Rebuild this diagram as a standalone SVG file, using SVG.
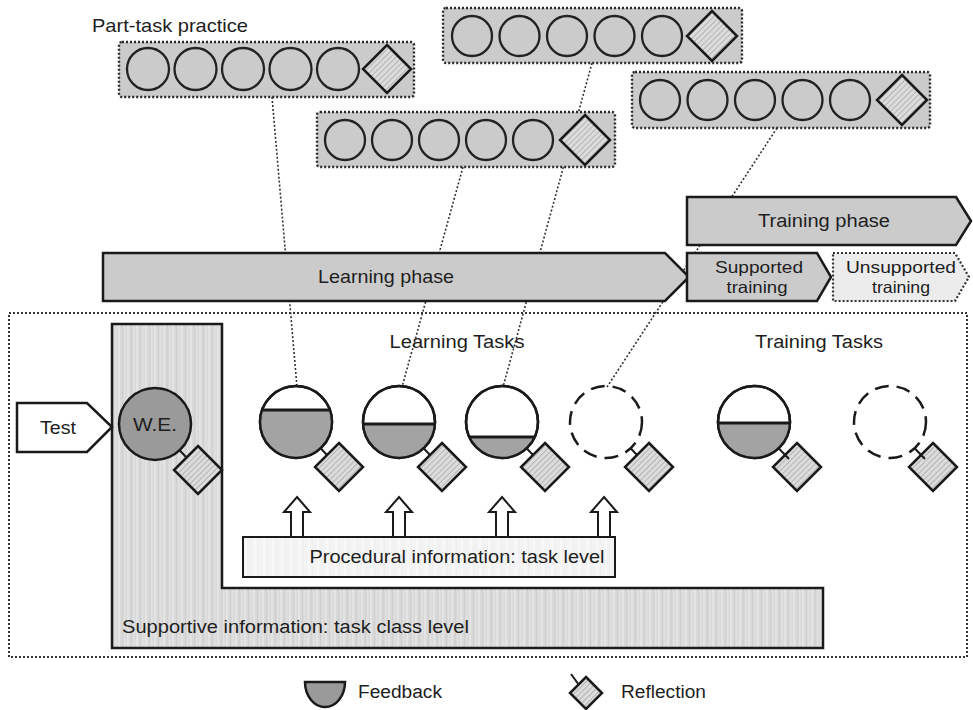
<svg xmlns="http://www.w3.org/2000/svg" width="973" height="710" viewBox="0 0 973 710">
<defs>
  <pattern id="hatch" patternUnits="userSpaceOnUse" width="4" height="4" patternTransform="rotate(45)">
    <rect width="4" height="4" fill="#dcdcdc"/>
    <line x1="0" y1="0" x2="0" y2="4" stroke="#9a9a9a" stroke-width="1.2"/>
  </pattern>
  <pattern id="vstripe" patternUnits="userSpaceOnUse" width="9" height="10">
    <rect width="9" height="10" fill="#d9d9d9"/>
    <rect x="1" width="2" height="10" fill="#e4e4e4"/>
    <rect x="5" width="1" height="10" fill="#cfcfcf"/>
    <rect x="7" width="1.5" height="10" fill="#e0e0e0"/>
  </pattern>
  <pattern id="vstripeLight" patternUnits="userSpaceOnUse" width="9" height="10">
    <rect width="9" height="10" fill="#f3f3f3"/>
    <rect x="2" width="2" height="10" fill="#f8f8f8"/>
    <rect x="6" width="1" height="10" fill="#efefef"/>
  </pattern>
</defs>
<style>
  text { font-family: "Liberation Sans", Arial, sans-serif; fill: #1e1e1e; }
  .t16 { font-size: 16.5px; }
  .t17 { font-size: 18px; }
  .t18 { font-size: 19px; }
  .ptp { fill: #cbcbcb; stroke: #2a2a2a; stroke-width: 2.4; stroke-dasharray: 2 2; }
  .pc { fill: #cbcbcb; stroke: #222; stroke-width: 2.3; }
  .dia { fill: url(#hatch); stroke: #1a1a1a; stroke-width: 2.5; stroke-linejoin: miter; }
  .dot { fill: none; stroke: #333; stroke-width: 1.6; stroke-dasharray: 2 2; }
  .phase { fill: #cbcbcb; stroke: #1a1a1a; stroke-width: 2.5; stroke-linejoin: miter; }
  .task { fill: #fff; stroke: #1a1a1a; stroke-width: 2.5; }
  .dash { fill: none; stroke: #1a1a1a; stroke-width: 2.5; stroke-dasharray: 14 8; }
  .fb { fill: #a3a3a3; stroke: none; }
  .chord { stroke: #1a1a1a; stroke-width: 3; }
  .link { stroke: #1a1a1a; stroke-width: 2; }
  .up { fill: #fff; stroke: #1a1a1a; stroke-width: 2; stroke-linejoin: miter; }
</style>
<rect width="973" height="710" fill="#fff"/>

<!-- outer dotted frame -->
<g id="frame">
  <rect x="9" y="313" width="958" height="344" fill="none" stroke="#333" stroke-width="2" stroke-dasharray="2 2"/>
</g>

<!-- connectors -->
<g id="connectors">
  <line class="dot" x1="272" y1="97" x2="297" y2="387"/>
  <line class="dot" x1="463" y1="167" x2="402" y2="387"/>
  <line class="dot" x1="592" y1="63" x2="503" y2="387"/>
  <line class="dot" x1="777" y1="128" x2="607" y2="387"/>
</g>

<!-- Part-task practice boxes -->
<g id="ptp-label"><text class="t18" x="92" y="32" textLength="156" lengthAdjust="spacingAndGlyphs">Part-task practice</text></g>

<g id="ptp1">
  <rect class="ptp" x="119" y="42" width="295" height="55" rx="3"/>
  <circle class="pc" cx="148" cy="69" r="21"/>
  <circle class="pc" cx="195.5" cy="69" r="21"/>
  <circle class="pc" cx="243" cy="69" r="21"/>
  <circle class="pc" cx="290.5" cy="69" r="21"/>
  <circle class="pc" cx="338" cy="69" r="21"/>
  <polygon class="dia" points="387,45 411,69 387,93 363,69"/>
</g>
<g id="ptp2">
  <rect class="ptp" x="443" y="8" width="299" height="55" rx="3"/>
  <circle class="pc" cx="472" cy="36" r="20"/>
  <circle class="pc" cx="519.5" cy="36" r="20"/>
  <circle class="pc" cx="567" cy="36" r="20"/>
  <circle class="pc" cx="614.5" cy="36" r="20"/>
  <circle class="pc" cx="662" cy="36" r="20"/>
  <polygon class="dia" points="712,11 737,36 712,61 687,36"/>
</g>
<g id="ptp3">
  <rect class="ptp" x="632" y="72" width="298" height="56" rx="3"/>
  <circle class="pc" cx="660" cy="100" r="20"/>
  <circle class="pc" cx="707.5" cy="100" r="20"/>
  <circle class="pc" cx="755" cy="100" r="20"/>
  <circle class="pc" cx="802.5" cy="100" r="20"/>
  <circle class="pc" cx="850" cy="100" r="20"/>
  <polygon class="dia" points="902,75 927,100 902,125 877,100"/>
</g>
<g id="ptp4">
  <rect class="ptp" x="317" y="112" width="298" height="55" rx="3"/>
  <circle class="pc" cx="345" cy="140" r="20"/>
  <circle class="pc" cx="392" cy="140" r="20"/>
  <circle class="pc" cx="439" cy="140" r="20"/>
  <circle class="pc" cx="486" cy="140" r="20"/>
  <circle class="pc" cx="533" cy="140" r="20"/>
  <polygon class="dia" points="585,115 610,140 585,165 560,140"/>
</g>

<!-- phases -->
<g id="learning-phase">
  <polygon class="phase" points="103,253 665,253 689,277 665,301 103,301"/>
  <text class="t18" x="386" y="283" text-anchor="middle" textLength="136" lengthAdjust="spacingAndGlyphs">Learning phase</text>
</g>
<g id="training-phase">
  <polygon class="phase" points="687,197 956,197 971,221 956,245 687,245"/>
  <text class="t17" x="824" y="227" text-anchor="middle" textLength="132" lengthAdjust="spacingAndGlyphs">Training phase</text>
</g>
<g id="supported-training">
  <polygon class="phase" points="687,253 817,253 831,277 817,301 687,301"/>
  <text class="t16" x="759" y="273" text-anchor="middle" textLength="88" lengthAdjust="spacingAndGlyphs">Supported</text>
  <text class="t16" x="757" y="293" text-anchor="middle" textLength="61" lengthAdjust="spacingAndGlyphs">training</text>
</g>
<g id="unsupported-training">
  <polygon points="833,253 955,253 969,277 955,301 833,301" fill="#ececec" stroke="#333" stroke-width="2.2" stroke-dasharray="2 2"/>
  <text class="t16" x="901" y="273" text-anchor="middle" textLength="110" lengthAdjust="spacingAndGlyphs">Unsupported</text>
  <text class="t16" x="901" y="293" text-anchor="middle" textLength="58" lengthAdjust="spacingAndGlyphs">training</text>
</g>

<!-- supportive information -->
<g id="supportive-info">
  <path d="M112,324 H222 V588 H823 V648 H112 Z" fill="url(#vstripe)" stroke="#1a1a1a" stroke-width="2.5"/>
  <text class="t17" x="122" y="633" textLength="347" lengthAdjust="spacingAndGlyphs">Supportive information: task class level</text>
</g>

<!-- procedural information -->
<g id="procedural-info">
  <rect x="243" y="537" width="372" height="40" fill="url(#vstripeLight)" stroke="#1a1a1a" stroke-width="2"/>
  <text class="t17" x="457" y="563" text-anchor="middle" textLength="295" lengthAdjust="spacingAndGlyphs">Procedural information: task level</text>
</g>
<g id="up-arrows">
  <polygon class="up" points="297,497 310,512 303,512 303,537 291,537 291,512 284,512"/>
  <polygon class="up" points="399,497 412,512 405,512 405,537 393,537 393,512 386,512"/>
  <polygon class="up" points="502,497 515,512 508,512 508,537 496,537 496,512 489,512"/>
  <polygon class="up" points="604,497 617,512 610,512 610,537 598,537 598,512 591,512"/>
</g>

<!-- test -->
<g id="test">
  <polygon points="17,403 87,403 112,427 87,452 17,452" fill="#fff" stroke="#1a1a1a" stroke-width="2.5"/>
  <text class="t17" x="58" y="434" text-anchor="middle" textLength="36" lengthAdjust="spacingAndGlyphs">Test</text>
</g>

<!-- worked example -->
<g id="worked-example">
  <line class="link" x1="179.6" y1="450.2" x2="186" y2="457"/>
  <polygon class="dia" points="198,446 222,470 198,494 174,470" stroke-width="2"/>
  <circle cx="155" cy="424" r="36" fill="#9a9a9a" stroke="#1a1a1a" stroke-width="2.5"/>
  <text class="t18" x="155" y="431" text-anchor="middle" textLength="44" lengthAdjust="spacingAndGlyphs">W.E.</text>
</g>

<g id="learning-tasks-label"><text class="t17" x="457" y="348" text-anchor="middle" textLength="135" lengthAdjust="spacingAndGlyphs">Learning Tasks</text></g>
<g id="training-tasks-label"><text class="t17" x="819" y="348" text-anchor="middle" textLength="128" lengthAdjust="spacingAndGlyphs">Training Tasks</text></g>

<!-- learning tasks -->
<g id="task1">
  <line class="link" x1="320.6" y1="448.2" x2="327" y2="455"/>
  <polygon class="dia" points="339,443 363,467 339,491 315,467" stroke-width="2"/>
  <circle class="task" cx="296" cy="422" r="36"/>
  <path class="fb" d="M262.06,410 L329.94,410 A36,36 0 1 1 262.06,410 Z"/>
  <line class="chord" x1="262.06" y1="410" x2="329.94" y2="410"/>
  <circle cx="296" cy="422" r="36" fill="none" stroke="#1a1a1a" stroke-width="2.5"/>
</g>
<g id="task2">
  <line class="link" x1="423.6" y1="448.2" x2="430" y2="455"/>
  <polygon class="dia" points="442,443 466,467 442,491 418,467" stroke-width="2"/>
  <circle class="task" cx="399" cy="422" r="36"/>
  <path class="fb" d="M363.06,424 L434.94,424 A36,36 0 0 1 363.06,424 Z"/>
  <line class="chord" x1="363.06" y1="424" x2="434.94" y2="424"/>
  <circle cx="399" cy="422" r="36" fill="none" stroke="#1a1a1a" stroke-width="2.5"/>
</g>
<g id="task3">
  <line class="link" x1="526.6" y1="448.2" x2="533" y2="455"/>
  <polygon class="dia" points="545,443 569,467 545,491 521,467" stroke-width="2"/>
  <circle class="task" cx="502" cy="422" r="36"/>
  <path class="fb" d="M469.27,437 L534.73,437 A36,36 0 0 1 469.27,437 Z"/>
  <line class="chord" x1="469.27" y1="437" x2="534.73" y2="437"/>
  <circle cx="502" cy="422" r="36" fill="none" stroke="#1a1a1a" stroke-width="2.5"/>
</g>
<g id="task4">
  <polygon class="dia" points="649,443 673,467 649,491 625,467" stroke-width="2"/>
  <circle class="dash" cx="606" cy="422" r="36"/>
  <line class="link" x1="630.6" y1="448.2" x2="637" y2="455"/>
</g>

<!-- training tasks -->
<g id="task5">
  <polygon class="dia" points="797,443 821,467 797,491 773,467" stroke-width="2"/>
  <circle class="task" cx="754" cy="422" r="36"/>
  <path class="fb" d="M718.01,423 L789.99,423 A36,36 0 0 1 718.01,423 Z"/>
  <line class="chord" x1="718.01" y1="423" x2="789.99" y2="423"/>
  <circle cx="754" cy="422" r="36" fill="none" stroke="#1a1a1a" stroke-width="2.5"/>
  <line class="link" x1="778.6" y1="448.2" x2="789" y2="459"/>
</g>
<g id="task6">
  <polygon class="dia" points="933,443 957,467 933,491 909,467" stroke-width="2"/>
  <circle class="dash" cx="890" cy="422" r="36"/>
  <line class="link" x1="914.6" y1="448.2" x2="925" y2="459"/>
</g>

<!-- legend -->
<g id="legend-feedback">
  <path d="M305,682 L345,682 A20,25 0 0 1 305,682 Z" fill="#9a9a9a" stroke="#1a1a1a" stroke-width="2.5"/>
  <text class="t17" x="358" y="698" textLength="84" lengthAdjust="spacingAndGlyphs">Feedback</text>
</g>
<g id="legend-reflection">
  <polygon class="dia" points="586,677 602,693 586,709 570,693" stroke-width="2.2"/>
  <line class="link" x1="571" y1="674" x2="579" y2="685"/>
  <text class="t17" x="621" y="698" textLength="85" lengthAdjust="spacingAndGlyphs">Reflection</text>
</g>
</svg>
